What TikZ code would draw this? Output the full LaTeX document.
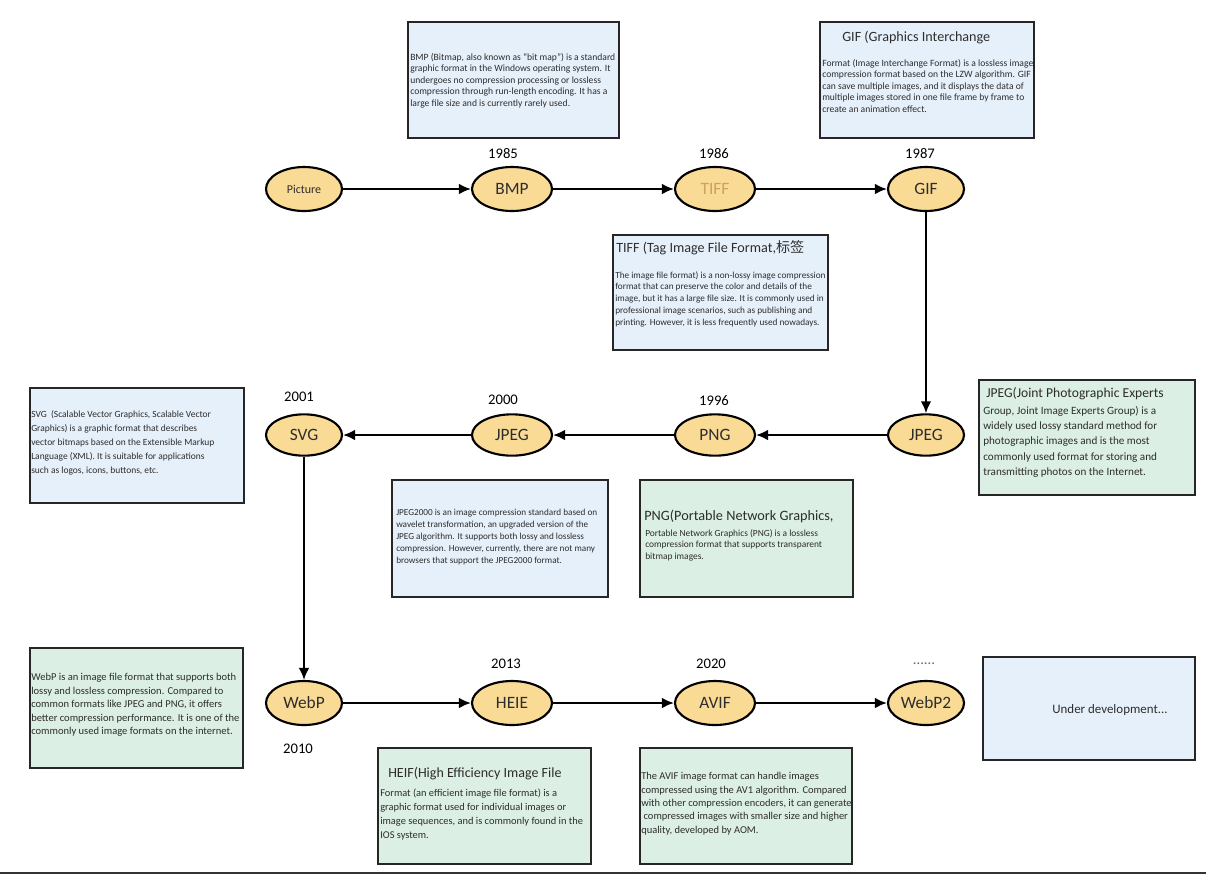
\documentclass[tikz,border=0pt]{standalone}
\usepackage{fontspec}
\setmainfont{Carlito}
\newfontfamily\cjkfont{Noto Sans CJK SC}
\usetikzlibrary{arrows.meta,fit,shapes.geometric}
\definecolor{ellfill}{RGB}{250,219,150}
\definecolor{bluebox}{RGB}{230,240,251}
\definecolor{greenbox}{RGB}{220,239,228}
\definecolor{txt}{RGB}{45,45,45}
\definecolor{tiffc}{RGB}{205,160,100}
\begin{document}
\begin{tikzpicture}[x=0.75pt,y=-0.75pt,
  fmt/.style={ellipse, draw=black, line width=1.6pt, fill=ellfill, minimum width=60pt, minimum height=33pt, inner sep=0pt, text=txt, font=\fontsize{13}{15}\selectfont},
  flow/.style={-{Latex[length=9pt,width=8pt]}, line width=1.5pt},
  infobox/.style={draw=black!85, line width=1.7pt, inner sep=0pt},
  year/.style={text=black, font=\fontsize{11}{13}\selectfont},
  body/.style={anchor=north west, align=left, inner sep=0pt, text=txt},
  title/.style={anchor=west, inner sep=0pt, text=txt, font=\fontsize{10.6}{12}\selectfont}]
\useasboundingbox (0,0) rectangle (1206,879);
\fill[white] (0,0) rectangle (1206,879);

% ellipses
\node[fmt, minimum width=57pt, font=\fontsize{9}{11}\selectfont] (pic) at (304,189) {Picture};
\node[fmt] (bmp) at (512,189) {BMP};
\node[fmt, text=tiffc] (tiff) at (715,189) {TIFF};
\node[fmt, minimum width=57pt] (gif) at (926,189) {GIF};
\node[fmt, minimum width=57pt, minimum height=31pt] (jpeg) at (926,435) {JPEG};
\node[fmt, minimum height=31pt] (png) at (715,435) {PNG};
\node[fmt, minimum height=31pt] (jpg2) at (512,435) {JPEG};
\node[fmt, minimum width=57pt, minimum height=31pt] (svg) at (304,435) {SVG};
\node[fmt, minimum width=57pt] (webp) at (304,703) {WebP};
\node[fmt] (heie) at (512,703) {HEIE};
\node[fmt] (avif) at (715,703) {AVIF};
\node[fmt, minimum width=57pt] (webp2) at (926,703) {WebP2};

% years
\node[year] (y1985) at (503,154) {1985};
\node[year] (y1986) at (714,154) {1986};
\node[year] (y1987) at (920,154) {1987};
\node[year] (y2001) at (299,397) {2001};
\node[year] (y2000) at (503,400) {2000};
\node[year] (y1996) at (714,401) {1996};
\node[year] (y2010) at (298,749) {2010};
\node[year] (y2013) at (506,664) {2013};
\node[year] (y2020) at (711,664) {2020};
\node[year, text=black!60] (ydots) at (924,664) {......};

% arrows
\draw[flow] (pic) -- (bmp);
\draw[flow] (bmp) -- (tiff);
\draw[flow] (tiff) -- (gif);
\draw[flow] (gif) -- (jpeg);
\draw[flow] (jpeg) -- (png);
\draw[flow] (png) -- (jpg2);
\draw[flow] (jpg2) -- (svg);
\draw[flow] (svg) -- (webp);
\draw[flow] (webp) -- (heie);
\draw[flow] (heie) -- (avif);
\draw[flow] (avif) -- (webp2);

% boxes
\node[infobox, fill=bluebox, fit={(408,22) (619,138)}] (bmpbox) {};
\node[infobox, fill=bluebox, fit={(820,22) (1034,138)}] (gifbox) {};
\node[infobox, fill=bluebox, fit={(613,235) (828,350)}] (tiffbox) {};
\node[infobox, fill=bluebox, fit={(30,388) (244,503)}] (svgbox) {};
\node[infobox, fill=greenbox, fit={(979,380) (1195,495)}] (jpegbox) {};
\node[infobox, fill=bluebox, fit={(392,480) (608,597)}] (jpg2box) {};
\node[infobox, fill=greenbox, fit={(640,480) (853,597)}] (pngbox) {};
\node[infobox, fill=greenbox, fit={(30,648) (243,768)}] (webpbox) {};
\node[infobox, fill=greenbox, fit={(378,748) (591,864)}] (heifbox) {};
\node[infobox, fill=greenbox, fit={(640,748) (852,864)}] (avifbox) {};
\node[infobox, fill=bluebox, fit={(983,657) (1195,760)}] (devbox) {};

% texts
\node[body, font=\fontsize{7.2}{8.6}\selectfont] (bmptext) at (410,53) {BMP (Bitmap, also known as “bit map”) is a standard\\graphic format in the Windows operating system. It\\undergoes no compression processing or lossless\\compression through run-length encoding. It has a\\large file size and is currently rarely used.};

\node[title] (giftitle) at (842,38) {GIF (Graphics Interchange};
\node[body, font=\fontsize{7.2}{8.6}\selectfont] (giftext) at (822,59) {Format (Image Interchange Format) is a lossless image\\compression format based on the LZW algorithm. GIF\\can save multiple images, and it displays the data of\\multiple images stored in one file frame by frame to\\create an animation effect.};

\node[title] (tifftitle) at (616,248) {TIFF (Tag Image File Format,{\cjkfont 标签}};
\node[body, font=\fontsize{6.95}{8.9}\selectfont] (tifftext) at (615,271) {The image file format) is a non-lossy image compression\\format that can preserve the color and details of the\\image, but it has a large file size. It is commonly used in\\professional image scenarios, such as publishing and\\printing. However, it is less frequently used nowadays.};

\node[body, font=\fontsize{7.1}{10.5}\selectfont] (svgtext) at (31,410) {SVG\ \ (Scalable Vector Graphics, Scalable Vector\\Graphics) is a graphic format that describes\\vector bitmaps based on the Extensible Markup\\Language (XML). It is suitable for applications\\such as logos, icons, buttons, etc.};

\node[title, font=\fontsize{10.2}{12}\selectfont] (jpegtitle) at (986,394) {JPEG(Joint Photographic Experts};
\node[body, font=\fontsize{8.35}{11.4}\selectfont] (jpegtext) at (983,406) {Group, Joint Image Experts Group) is a\\widely used lossy standard method for\\photographic images and is the most\\commonly used format for storing and\\transmitting photos on the Internet.};

\node[body, font=\fontsize{6.9}{8.9}\selectfont] (jpg2text) at (396,509) {JPEG2000 is an image compression standard based on\\wavelet transformation, an upgraded version of the\\JPEG algorithm. It supports both lossy and lossless\\compression. However, currently, there are not many\\browsers that support the JPEG2000 format.};

\node[title, font=\fontsize{10.7}{12}\selectfont] (pngtitle) at (644,516) {PNG(Portable Network Graphics,};
\node[body, font=\fontsize{7.05}{8.6}\selectfont] (pngtext) at (645,529) {Portable Network Graphics (PNG) is a lossless\\compression format that supports transparent\\bitmap images.};

\node[body, font=\fontsize{7.9}{10.2}\selectfont] (webptext) at (31,673) {WebP is an image file format that supports both\\lossy and lossless compression. Compared to\\common formats like JPEG and PNG, it offers\\better compression performance. It is one of the\\commonly used image formats on the internet.};

\node[title, font=\fontsize{10.5}{12}\selectfont] (heiftitle) at (388,774) {HEIF(High Efficiency Image File};
\node[body, font=\fontsize{7.8}{10.3}\selectfont] (heiftext) at (380,789) {Format (an efficient image file format) is a\\graphic format used for individual images or\\image sequences, and is commonly found in the\\IOS system.};

\node[body, font=\fontsize{7.85}{10.1}\selectfont] (aviftext) at (641,772) {The AVIF image format can handle images\\compressed using the AV1 algorithm. Compared\\with other compression encoders, it can generate\\\ compressed images with smaller size and higher\\quality, developed by AOM.};

\node[text=txt, font=\fontsize{9.7}{11}\selectfont] (devtext) at (1110,710) {Under development...};

% bottom rule
\coordinate (bl) at (0,873);
\coordinate (br) at (1206,873);
\draw[line width=1.5pt, black!80] (bl) -- (br);
\end{tikzpicture}
\end{document}
